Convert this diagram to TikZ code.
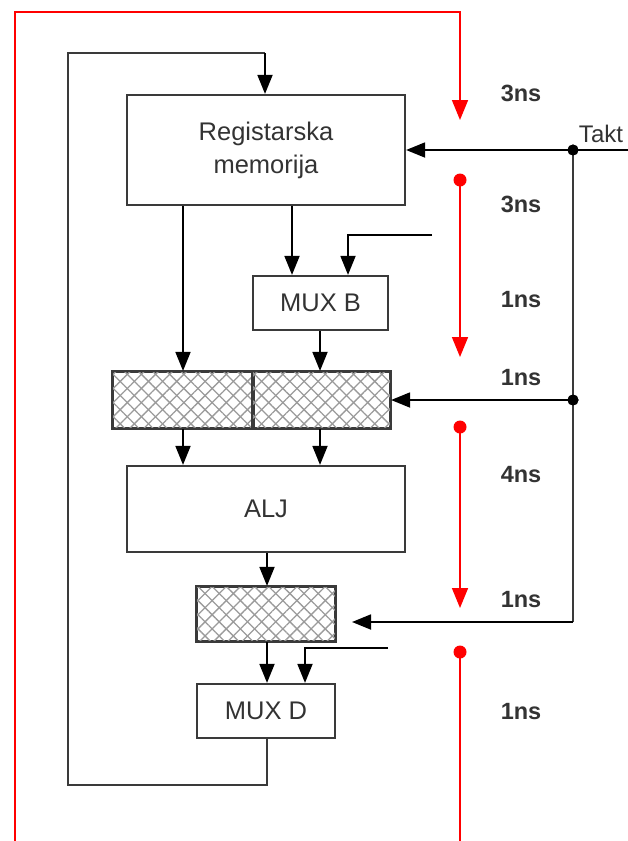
\documentclass[tikz,border=0pt]{standalone}
\usepackage{fontspec}
\setmainfont{Liberation Sans}
\usetikzlibrary{arrows.meta,patterns.meta}
\definecolor{boxgray}{HTML}{3A3A3A}
\definecolor{hatchgray}{HTML}{9A9A9A}
\definecolor{txt}{HTML}{333333}
\tikzset{
  box/.style={draw=boxgray, line width=2.2pt, rectangle, inner sep=0pt, align=center,
    font=\fontsize{25.5}{33}\selectfont, text=txt},
  regbox/.style={draw=boxgray, line width=2.2pt, rectangle, inner sep=0pt},
  conn/.style={draw=black, line width=1.8pt, -{Triangle[width=15pt,length=19pt]}},
  plain/.style={draw=black, line width=1.8pt},
  loopline/.style={draw=boxgray, line width=2.2pt},
  redline/.style={draw=red, line width=1.6pt},
  redarrow/.style={redline, -{Triangle[width=16pt,length=20pt]}},
  reddot/.style={circle, fill=red, inner sep=0pt, minimum size=13pt},
  blackdot/.style={circle, fill=black, inner sep=0pt, minimum size=11pt},
  nslabel/.style={font=\bfseries\fontsize{23.5}{26}\selectfont, text=txt},
  hatchA/.style={pattern={Lines[angle=45,distance=10pt,line width=1.3pt]}, pattern color=hatchgray},
  hatchB/.style={pattern={Lines[angle=-45,distance=10pt,line width=1.3pt]}, pattern color=hatchgray}
}
\begin{document}
\begin{tikzpicture}[x=1pt,y=-1pt]
\useasboundingbox (0,0) rectangle (628,841);

% boxes
\node[box, minimum width=278pt, minimum height=110pt] (reg) at (266,150) {Registarska\\memorija};
\node[box, minimum width=135pt, minimum height=54pt] (muxb) at (320.5,303) {MUX B};
\node[box, minimum width=278pt, minimum height=86pt] (alj) at (266,509) {ALJ};
\node[box, minimum width=138pt, minimum height=54pt] (muxd) at (266,711) {MUX D};

% hatched registers
\node[regbox, minimum width=140pt, minimum height=56pt] (ra) at (183,400) {};
\node[regbox, minimum width=137pt, minimum height=56pt] (rb) at (321.5,400) {};
\node[regbox, minimum width=138pt, minimum height=54pt] (rc) at (266,614) {};
\foreach \r in {ra,rb,rc}{
  \fill[hatchA] (\r.south west) rectangle (\r.north east);
  \fill[hatchB] (\r.south west) rectangle (\r.north east);
  \draw[boxgray, line width=2.2pt] (\r.south west) rectangle (\r.north east);
}

% coordinates
\coordinate (loopR) at (267,785);
\coordinate (loopL) at (68,785);
\coordinate (loopTL) at (68,53);
\coordinate (loopTR) at (265,53);
\coordinate (bin) at (432,235);
\coordinate (bcorner) at (348,235);
\coordinate (din) at (388,648);
\coordinate (dcorner) at (305,648);
\coordinate (taktend) at (628,150);
\node[blackdot] (t1) at (573,150) {};
\node[blackdot] (t2) at (573,400) {};
\coordinate (t3) at (573,622);
\coordinate (t3tip) at (352,622);
\node[font=\fontsize{24}{26}\selectfont, text=txt] (takt) at (601,134) {Takt};

% data connectors
\draw[conn] (reg.south -| 183,0) -- (ra.north -| 183,0);
\draw[conn] (reg.south -| 292,0) -- (muxb.north -| 292,0);
\draw[conn] (bin) -- (bcorner) -- (muxb.north -| bcorner);
\draw[conn] (muxb.south -| 320,0) -- (rb.north -| 320,0);
\draw[conn] (ra.south -| 183,0) -- (alj.north -| 183,0);
\draw[conn] (rb.south -| 320,0) -- (alj.north -| 320,0);
\draw[conn] (alj.south -| 267,0) -- (rc.north -| 267,0);
\draw[conn] (rc.south -| 267,0) -- (muxd.north -| 267,0);
\draw[conn] (din) -- (dcorner) -- (muxd.north -| dcorner);

% feedback loop
\draw[loopline] (muxd.south -| loopR) -- (loopR) -- (loopL) -- (loopTL) -- (loopTR);
\draw[conn] (loopTR) -- (reg.north -| loopTR);

% clock
\draw[conn] (taktend) -- (reg.east |- taktend);
\draw[plain, draw=boxgray, line width=2.2pt] (t1.center) -- (t3);
\draw[conn] (t2.center) -- (rb.east |- t2);
\draw[conn] (t3) -- (t3tip);
\node[blackdot] at (t1) {};
\node[blackdot] at (t2) {};

% red timing line
\coordinate (rbl) at (15,841);
\coordinate (rtl) at (15,12);
\coordinate (rtr) at (460,12);
\coordinate (ra1) at (460,120);
\node[reddot] (rd1) at (460,180) {};
\coordinate (ra2) at (460,357);
\node[reddot] (rd2) at (460,427) {};
\coordinate (ra3) at (460,608);
\node[reddot] (rd3) at (460,652) {};
\coordinate (rend) at (460,841);
\draw[redarrow] (rbl) -- (rtl) -- (rtr) -- (ra1);
\draw[redarrow] (rd1.center) -- (ra2);
\draw[redarrow] (rd2.center) -- (ra3);
\draw[redline] (rd3.center) -- (rend);

% timing labels
\node[nslabel] (n1) at (521,93) {3ns};
\node[nslabel] (n2) at (521,204) {3ns};
\node[nslabel] (n3) at (521,300) {1ns};
\node[nslabel] (n4) at (521,378) {1ns};
\node[nslabel] (n5) at (521,475) {4ns};
\node[nslabel] (n6) at (521,600) {1ns};
\node[nslabel] (n7) at (521,712) {1ns};
\end{tikzpicture}
\end{document}
